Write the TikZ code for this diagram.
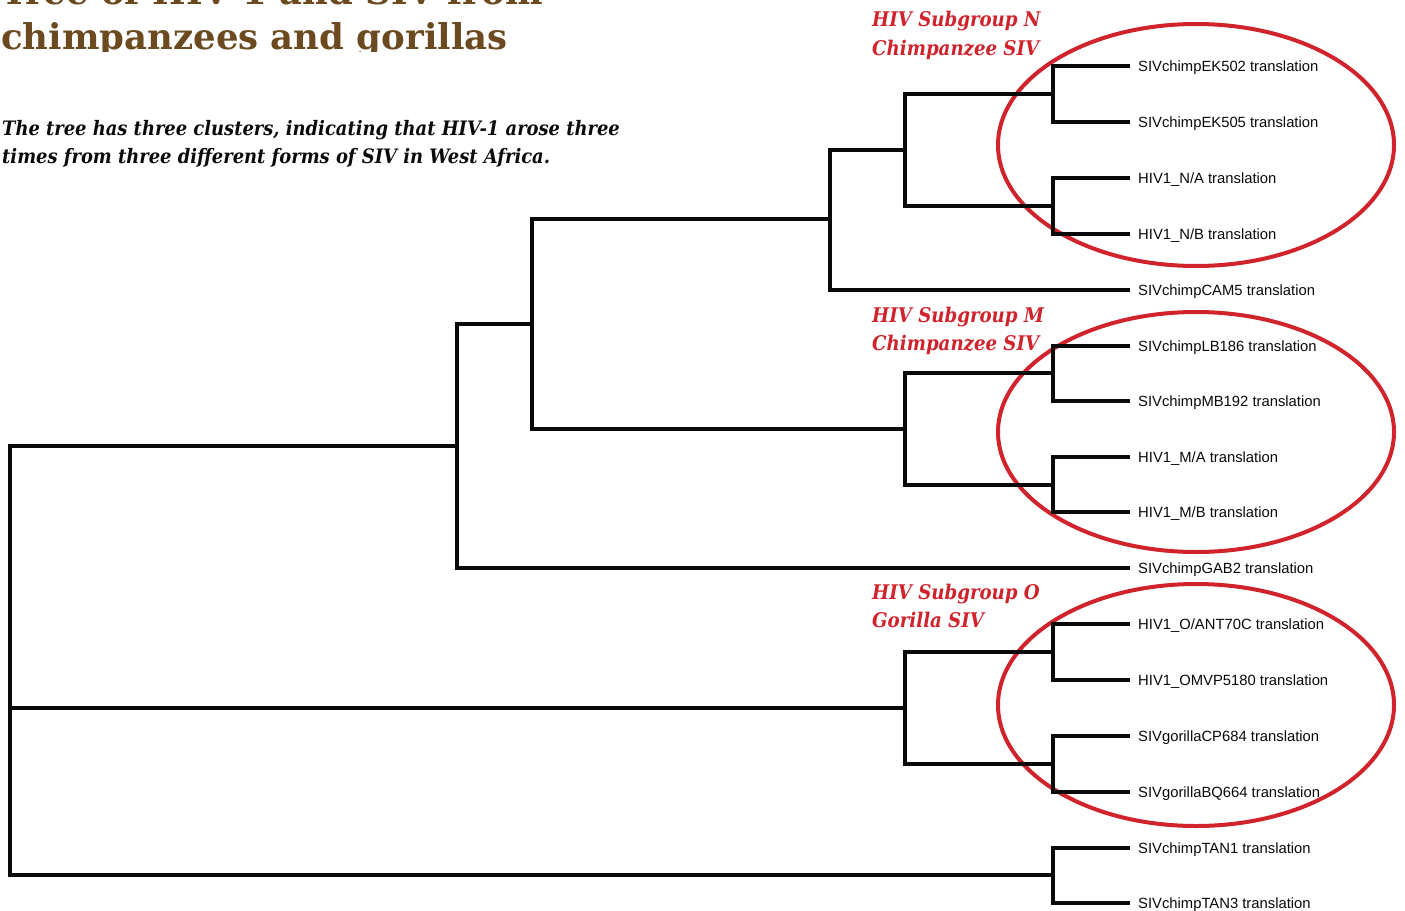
\documentclass[tikz,border=0pt]{standalone}
\usepackage{fontspec}
\setmainfont{Liberation Sans}
\newfontfamily\titlefont{DejaVu Serif}
\newfontfamily\notefont{DejaVu Serif Condensed}
\newfontfamily\leaffont{Liberation Sans}
\definecolor{titlebrown}{RGB}{107,74,32}
\definecolor{cladered}{RGB}{208,35,44}
\definecolor{treeblack}{RGB}{10,10,10}
\tikzset{
  branch/.style={draw=treeblack, line width=3.2pt, line cap=rect, line join=miter},
  leaf/.style={anchor=west, inner xsep=10pt, inner ysep=0pt, text height=10.6pt, text depth=0pt,
               font=\leaffont\fontsize{14.8}{16}\selectfont, text=treeblack},
  clade/.style={draw=cladered, line width=4pt},
  cladelabel/.style={anchor=base west, inner sep=0pt, text=cladered,
               font=\notefont\bfseries\itshape\fontsize{20.2}{24}\selectfont},
  notetext/.style={anchor=base west, inner sep=0pt, text=treeblack,
               font=\notefont\bfseries\itshape\fontsize{19.9}{24}\selectfont},
  titletext/.style={anchor=base west, inner sep=0pt, text=titlebrown,
               font=\titlefont\bfseries\fontsize{35.5}{43}\selectfont},
}
\begin{document}
\begin{tikzpicture}[x=1pt, y=-1pt]
\useasboundingbox (0,0) rectangle (1405,910);
\fill[white] (0,0) rectangle (1405,910);

% title (clipped as in the reference)
\begin{scope}
  \clip (0,0) rectangle (700,51);
  \node[titletext] (title1) at (1,5) {Tree of HIV-1 and SIV from};
  \node[titletext] (title2) at (1,49) {chimpanzees and gorillas};
\end{scope}

\node[notetext] (note1) at (2,135) {The tree has three clusters, indicating that HIV-1 arose three};
\node[notetext] (note2) at (2,163) {times from three different forms of SIV in West Africa.};

% clade ellipses
\draw[clade] (1196,145) ellipse [x radius=198, y radius=121];
\draw[clade] (1196,432) ellipse [x radius=198, y radius=120];
\draw[clade] (1196,705) ellipse [x radius=198, y radius=121];

\node[cladelabel] (labN1) at (872,27)  {HIV Subgroup N};
\node[cladelabel] (labN2) at (872,55)  {Chimpanzee SIV};
\node[cladelabel] (labM1) at (872,322) {HIV Subgroup M};
\node[cladelabel] (labM2) at (872,350) {Chimpanzee SIV};
\node[cladelabel] (labO1) at (872,599) {HIV Subgroup O};
\node[cladelabel] (labO2) at (872,627) {Gorilla SIV};

% leaves
\node[leaf] (L1)  at (1128,66)  {SIVchimpEK502 translation};
\node[leaf] (L2)  at (1128,122) {SIVchimpEK505 translation};
\node[leaf] (L3)  at (1128,178) {HIV1\_N/A translation};
\node[leaf] (L4)  at (1128,234) {HIV1\_N/B translation};
\node[leaf] (L5)  at (1128,290) {SIVchimpCAM5 translation};
\node[leaf] (L6)  at (1128,346) {SIVchimpLB186 translation};
\node[leaf] (L7)  at (1128,401) {SIVchimpMB192 translation};
\node[leaf] (L8)  at (1128,457) {HIV1\_M/A translation};
\node[leaf] (L9)  at (1128,512) {HIV1\_M/B translation};
\node[leaf] (L10) at (1128,568) {SIVchimpGAB2 translation};
\node[leaf] (L11) at (1128,624) {HIV1\_O/ANT70C translation};
\node[leaf] (L12) at (1128,680) {HIV1\_OMVP5180 translation};
\node[leaf] (L13) at (1128,736) {SIVgorillaCP684 translation};
\node[leaf] (L14) at (1128,792) {SIVgorillaBQ664 translation};
\node[leaf] (L15) at (1128,848) {SIVchimpTAN1 translation};
\node[leaf] (L16) at (1128,903) {SIVchimpTAN3 translation};

% internal nodes
\coordinate (nEK) at (1053,94);
\coordinate (nN)  at (1053,206);
\coordinate (nNN) at (905,150);
\coordinate (nNC) at (830,219);
\coordinate (nM1) at (1053,373);
\coordinate (nM2) at (1053,485);
\coordinate (nMM) at (905,429);
\coordinate (nNM) at (532,324);
\coordinate (nG)  at (457,446);
\coordinate (nO1) at (1053,652);
\coordinate (nO2) at (1053,764);
\coordinate (nOO) at (905,708);
\coordinate (nT)  at (1053,875);
\coordinate (root) at (10,708);

% branches
\draw[branch] (nEK) |- (L1.west);
\draw[branch] (nEK) |- (L2.west);
\draw[branch] (nN) |- (L3.west);
\draw[branch] (nN) |- (L4.west);
\draw[branch] (nNN) |- (nEK);
\draw[branch] (nNN) |- (nN);
\draw[branch] (nNC) |- (nNN);
\draw[branch] (nNC) |- (L5.west);

\draw[branch] (nM1) |- (L6.west);
\draw[branch] (nM1) |- (L7.west);
\draw[branch] (nM2) |- (L8.west);
\draw[branch] (nM2) |- (L9.west);
\draw[branch] (nMM) |- (nM1);
\draw[branch] (nMM) |- (nM2);

\draw[branch] (nNM) |- (nNC);
\draw[branch] (nNM) |- (nMM);
\draw[branch] (nG) |- (nNM);
\draw[branch] (nG) |- (L10.west);

\draw[branch] (nO1) |- (L11.west);
\draw[branch] (nO1) |- (L12.west);
\draw[branch] (nO2) |- (L13.west);
\draw[branch] (nO2) |- (L14.west);
\draw[branch] (nOO) |- (nO1);
\draw[branch] (nOO) |- (nO2);

\draw[branch] (nT) |- (L15.west);
\draw[branch] (nT) |- (L16.west);

\draw[branch] (root) |- (nG);
\draw[branch] (root) -- (nOO);
\draw[branch] (root) |- (nT);
\end{tikzpicture}
\end{document}
